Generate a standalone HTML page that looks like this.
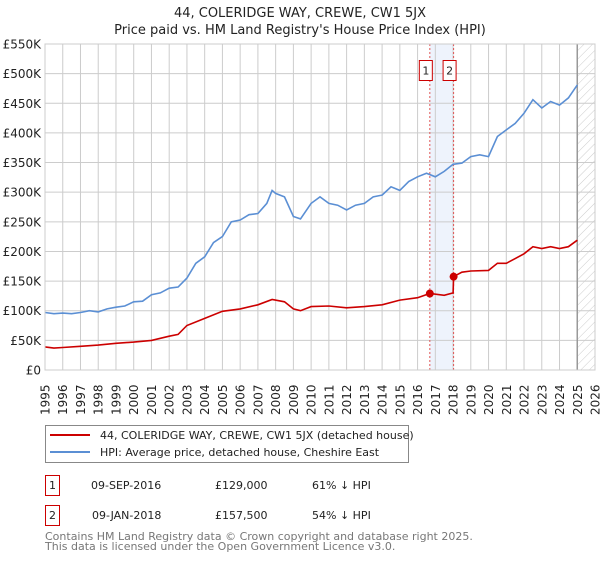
<!DOCTYPE html>
<html><head><meta charset="utf-8"><style>
body{margin:0;background:#fff;font-family:"DejaVu Sans","Liberation Sans",sans-serif;}
svg text{font-family:"DejaVu Sans","Liberation Sans",sans-serif;}
</style></head><body>
<svg id="chart" width="600" height="560" xmlns="http://www.w3.org/2000/svg">
<defs><pattern id="hatch" width="6" height="6" patternUnits="userSpaceOnUse" patternTransform="rotate(45)"><line x1="0" y1="0" x2="0" y2="6" stroke="#ccc" stroke-width="1"/></pattern></defs>
<text x="300" y="17" text-anchor="middle" font-size="13" fill="#222">44, COLERIDGE WAY, CREWE, CW1 5JX</text>
<text x="300" y="34" text-anchor="middle" font-size="13" fill="#222">Price paid vs. HM Land Registry's House Price Index (HPI)</text>
<g id="grid"></g>
<g id="marks"></g>
<rect x="45" y="44" width="550" height="326" fill="none" stroke="#ccc"/>
<g id="axes"></g>
<rect x="45.5" y="425.5" width="363" height="37" fill="#fff" stroke="#888"/>
<line x1="50" y1="435" x2="90" y2="435" stroke="#cc0000" stroke-width="2"/>
<text x="100" y="439" font-size="11" fill="#222">44, COLERIDGE WAY, CREWE, CW1 5JX (detached house)</text>
<line x1="50" y1="452" x2="90" y2="452" stroke="#5b8fd4" stroke-width="2"/>
<text x="100" y="456" font-size="11" fill="#222">HPI: Average price, detached house, Cheshire East</text>
<g font-size="11" fill="#222">
<rect x="45.5" y="475.5" width="14" height="20" fill="#fff" stroke="#cc0000"/>
<text x="52.5" y="489" text-anchor="middle">1</text>
<text x="91" y="489">09-SEP-2016</text><text x="215" y="489">£129,000</text><text x="312" y="489">61% ↓ HPI</text></g>
<g font-size="11" fill="#222">
<rect x="45.5" y="505.5" width="14" height="20" fill="#fff" stroke="#cc0000"/>
<text x="52.5" y="519" text-anchor="middle">2</text>
<text x="92" y="519">09-JAN-2018</text><text x="215" y="519">£157,500</text><text x="312" y="519">54% ↓ HPI</text></g>
<text x="45" y="540" font-size="11" fill="#777">Contains HM Land Registry data © Crown copyright and database right 2025.</text>
<text x="45" y="550" font-size="11" fill="#777">This data is licensed under the Open Government Licence v3.0.</text>
</svg>
<script>
const hpiYears=[1995,1995.5,1996,1996.5,1997,1997.5,1998,1998.5,1999,1999.5,2000,2000.5,2001,2001.5,2002,2002.5,2003,2003.5,2004,2004.5,2005,2005.5,2006,2006.5,2007,2007.5,2007.8,2008,2008.5,2009,2009.4,2010,2010.5,2011,2011.5,2012,2012.5,2013,2013.5,2014,2014.5,2015,2015.5,2016,2016.5,2017,2017.5,2018,2018.5,2019,2019.5,2020,2020.5,2021,2021.5,2022,2022.5,2023,2023.5,2024,2024.5,2025];
const hpiValues=[97,95,96,95,97,100,98,103,106,108,115,116,127,130,138,140,155,180,191,215,225,250,253,262,264,281,303,298,292,259,255,281,292,281,278,270,278,281,292,295,309,303,318,326,332,326,335,347,349,360,363,360,394,405,416,433,456,442,453,447,459,481];
const ppYears=[1995,1995.5,1996,1997,1998,1999,2000,2001,2002,2002.5,2003,2004,2005,2006,2007,2007.8,2008.5,2009,2009.4,2010,2011,2012,2013,2014,2015,2016,2016.69,2017.5,2018.0,2018.03,2018.5,2019,2020,2020.5,2021,2021.5,2022,2022.5,2023,2023.5,2024,2024.5,2025];
const ppValues=[39,37,38,40,42,45,47,50,57,60,75,87,99,103,110,119,115,103,100,107,108,105,107,110,118,122,129,126,130,157.5,165,167,168,180,180,188,196,208,205,208,205,208,219];
const sales=[{label:"1",year:2016.69,value:129},{label:"2",year:2018.03,value:157.5}];
const yTicks=[0,50,100,150,200,250,300,350,400,450,500,550];
const yTickLabels=["£0","£50K","£100K","£150K","£200K","£250K","£300K","£350K","£400K","£450K","£500K","£550K"];
const xTicks=[1995,1996,1997,1998,1999,2000,2001,2002,2003,2004,2005,2006,2007,2008,2009,2010,2011,2012,2013,2014,2015,2016,2017,2018,2019,2020,2021,2022,2023,2024,2025,2026];
const NS="http://www.w3.org/2000/svg";
const X=y=>45+(y-1995)*(550/31);
const Y=v=>370-v*(326/550);
function mk(p,t,a){const e=document.createElementNS(NS,t);for(const k in a)e.setAttribute(k,a[k]);p.appendChild(e);return e;}
const grid=document.getElementById('grid'),marks=document.getElementById('marks'),axes=document.getElementById('axes');
const band=mk(grid,'rect',{x:X(sales[0].year),y:44,width:X(sales[1].year)-X(sales[0].year),height:326,fill:'#eef3fc'});


const hat=mk(grid,'rect',{x:X(2025),y:44,width:595-X(2025),height:326,fill:'url(#hatch)'});


xTicks.forEach(t=>{const l=mk(grid,'line',{x1:X(t),x2:X(t),y1:44,y2:370,stroke:'#ccc'});


const tx=mk(axes,'text',{x:0,y:0,transform:`translate(${X(t)+4.5},${415}) rotate(-90)`,'font-size':12,fill:'#222'});tx.textContent=t;

});
yTicks.forEach((t,i)=>{const l=mk(grid,'line',{x1:45,x2:595,y1:Y(t),y2:Y(t),stroke:'#ccc'});


const tx=mk(axes,'text',{x:41,y:Y(t)+4.5,'text-anchor':'end','font-size':12,fill:'#222'});tx.textContent=yTickLabels[i];

});
const vl=mk(grid,'line',{x1:X(2025),x2:X(2025),y1:44,y2:370,stroke:'#999','stroke-width':1.5});


sales.forEach(s=>{const l=mk(grid,'line',{x1:X(s.year),x2:X(s.year),y1:44,y2:370,stroke:'#e05555','stroke-dasharray':'2,2'});

});
const hp=mk(marks,'path',{d:hpiYears.map((y,i)=>(i?'L':'M')+X(y).toFixed(1)+','+Y(hpiValues[i]).toFixed(1)).join(''),fill:'none',stroke:'#5b8fd4','stroke-width':1.6});


const pp=mk(marks,'path',{d:ppYears.map((y,i)=>(i?'L':'M')+X(y).toFixed(1)+','+Y(ppValues[i]).toFixed(1)).join(''),fill:'none',stroke:'#cc0000','stroke-width':1.6});


sales.forEach((s,i)=>{const c=mk(marks,'circle',{cx:X(s.year),cy:Y(s.value),r:4,fill:'#cc0000'});


const bx=X(s.year)-3.5;
const g=mk(marks,'g',{});


mk(g,'rect',{x:bx-7,y:60.5,width:13,height:20,fill:'#fff',stroke:'#cc0000'});
const t=mk(g,'text',{x:bx-0.5,y:74.5,'text-anchor':'middle','font-size':11,fill:'#222'});t.textContent=s.label;});
</script>
</body></html>
